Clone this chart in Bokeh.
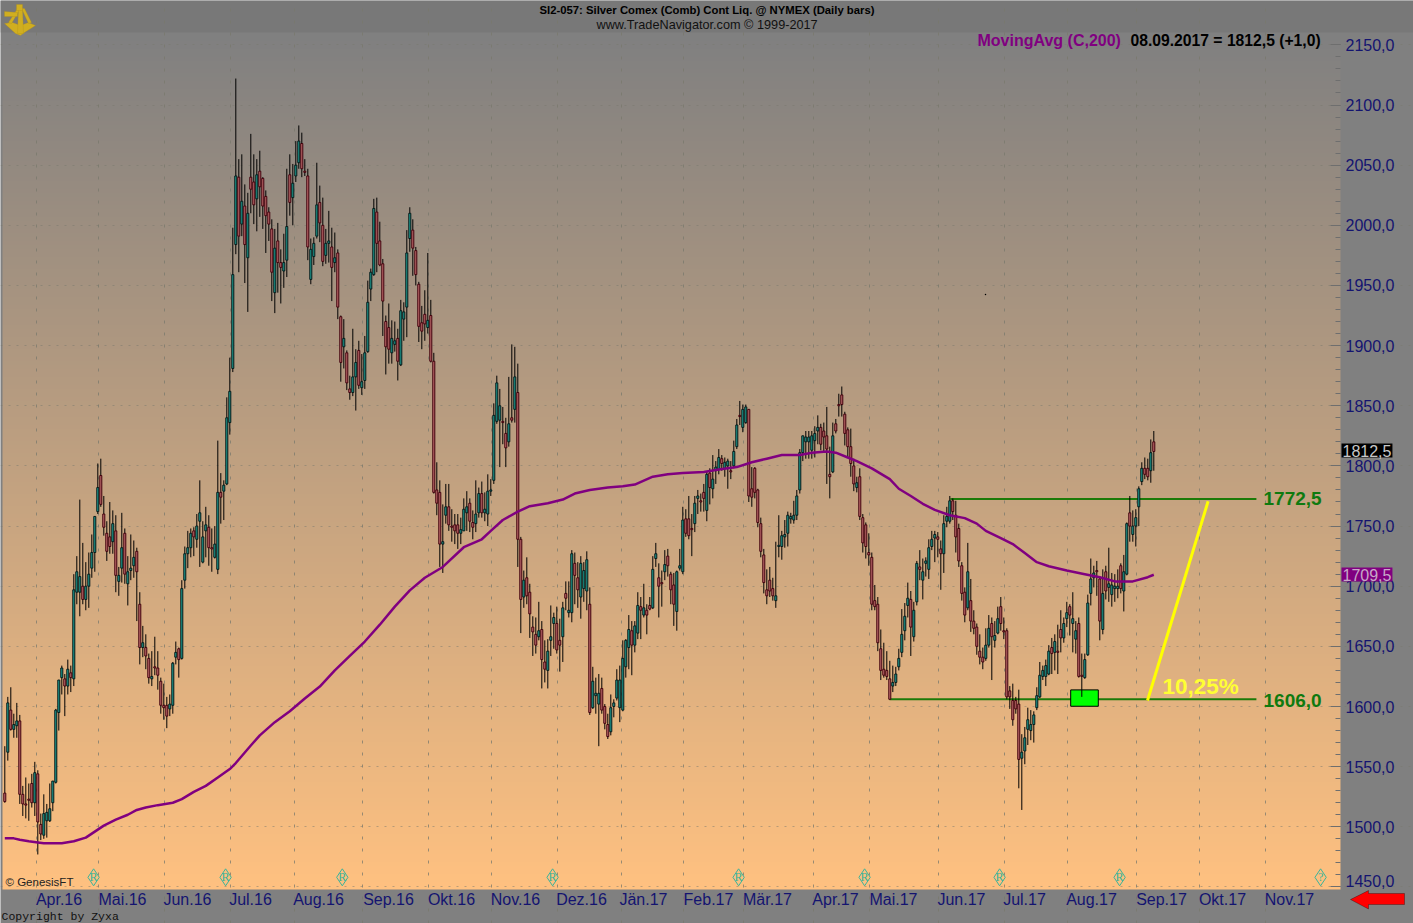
import numpy as np
from bokeh.plotting import figure
from bokeh.embed import file_html
from bokeh.resources import INLINE
from bokeh.models import FixedTicker, Label, PolyAnnotation, ColumnDataSource

opens = [
 1528,1562,1597,1581,1584,1588,1527,1519,1523,1536,
 1520,1544,1502,1493,1505,1505,1520,1537,1595,1624,
 1623,1617,1628,1623,1695,1695,1700,1689,1700,1715,
 1728,1762,1792,1760,1744,1741,1737,1746,1704,1715,
 1744,1702,1713,1717,1729,1685,1649,1649,1640,1623,
 1633,1632,1621,1601,1601,1598,1601,1641,1648,1640,
 1705,1727,1732,1746,1739,1754,1720,1746,1749,1732,
 1724,1714,1778,1779,1785,1836,1881,1984,2040,2001,
 2016,1973,2040,2036,2022,2045,2039,2024,2011,1997,
 1944,1987,1969,1962,1971,2042,2023,2041,2052,2068,
 2045,2041,1955,1974,1991,2019,2000,1975,1985,1982,
 1969,1977,1924,1899,1894,1864,1861,1874,1896,1865,
 1871,1895,1947,1959,2011,1987,1968,1920,1915,1894,
 1901,1906,1884,1922,1932,1989,1996,1979,1951,1919,
 1926,1915,1925,1887,1780,1778,1735,1759,1766,1750,
 1751,1751,1744,1746,1761,1769,1753,1752,1761,1777,
 1761,1760,1779,1788,1837,1838,1837,1827,1820,1840,
 1847,1861,1739,1691,1707,1695,1666,1660,1658,1664,
 1637,1630,1655,1669,1669,1655,1658,1694,1678,1678,
 1719,1707,1691,1698,1696,1685,1599,1609,1602,1615,
 1600,1585,1579,1600,1607,1599,1597,1633,1649,1663,
 1651,1661,1683,1676,1680,1684,1682,1723,1707,1703,
 1712,1725,1710,1701,1679,1715,1712,1756,1756,1748,
 1752,1773,1771,1778,1763,1794,1781,1796,1797,1806,
 1798,1800,1796,1800,1816,1842,1832,1836,1847,1781,
 1798,1780,1752,1726,1697,1705,1698,1688,1733,1733,
 1741,1744,1756,1755,1759,1780,1811,1820,1820,1813,
 1821,1829,1832,1829,1825,1793,1795,1835,1851,1859,
 1843,1830,1816,1800,1782,1791,1757,1751,1728,1724,
 1688,1685,1648,1631,1630,1623,1617,1620,1633,1645,
 1663,1684,1689,1658,1687,1716,1705,1719,1714,1733,
 1740,1741,1731,1727,1754,1754,1771,1759,1748,1717,
 1695,1682,1688,1671,1666,1646,1641,1640,1651,1669,
 1655,1661,1683,1663,1663,1613,1605,1605,1602,1557,
 1563,1581,1580,1585,1599,1608,1625,1625,1627,1649,
 1645,1646,1664,1657,1673,1683,1669,1656,1669,1626,
 1624,1643,1694,1707,1713,1706,1664,1712,1699,1693,
 1698,1698,1717,1696,1710,1761,1743,1750,1766,1787,
 1798,1798,1796,1820]
highs = [
 1567,1608,1616,1594,1603,1593,1534,1541,1536,1544,
 1554,1547,1511,1527,1519,1536,1538,1598,1622,1634,
 1627,1639,1634,1710,1725,1772,1736,1720,1728,1743,
 1758,1802,1806,1775,1754,1770,1763,1759,1716,1761,
 1748,1725,1743,1738,1732,1695,1667,1660,1644,1646,
 1658,1646,1624,1619,1608,1610,1637,1654,1649,1705,
 1733,1746,1748,1749,1760,1788,1754,1766,1759,1748,
 1750,1821,1794,1788,1857,1890,1998,2122,2055,2059,
 2034,2027,2076,2059,2055,2062,2040,2029,2015,2005,
 1997,2002,1980,1993,2047,2059,2051,2070,2083,2077,
 2055,2047,1989,1990,2052,2033,2023,1997,2012,1998,
 1994,1980,1925,1922,1896,1875,1914,1897,1904,1893,
 1908,1954,1964,2022,2023,2003,1972,1925,1935,1921,
 1920,1914,1938,1936,1996,2015,2005,1982,1953,1933,
 1946,1977,1938,1894,1803,1788,1768,1785,1785,1764,
 1760,1760,1757,1773,1779,1773,1763,1788,1782,1787,
 1778,1793,1789,1852,1875,1864,1849,1840,1874,1901,
 1899,1885,1741,1713,1724,1702,1675,1674,1687,1671,
 1655,1656,1684,1678,1683,1673,1687,1704,1704,1730,
 1728,1720,1725,1720,1729,1699,1633,1624,1627,1624,
 1602,1594,1610,1606,1631,1634,1655,1656,1676,1671,
 1671,1695,1691,1702,1685,1691,1725,1736,1719,1713,
 1730,1731,1712,1711,1713,1731,1766,1764,1775,1760,
 1775,1780,1777,1785,1795,1798,1809,1804,1814,1809,
 1807,1806,1804,1821,1839,1854,1851,1851,1847,1799,
 1799,1781,1757,1731,1714,1716,1707,1737,1759,1746,
 1755,1762,1761,1771,1780,1814,1825,1829,1829,1829,
 1833,1842,1835,1836,1849,1816,1836,1839,1860,1866,
 1845,1832,1831,1806,1791,1798,1760,1753,1744,1728,
 1701,1691,1664,1653,1646,1638,1634,1633,1648,1681,
 1686,1703,1696,1687,1721,1730,1723,1724,1739,1746,
 1746,1745,1738,1759,1766,1775,1773,1771,1752,1720,
 1699,1736,1706,1680,1669,1660,1649,1665,1676,1674,
 1671,1683,1691,1674,1665,1617,1619,1608,1614,1577,
 1583,1599,1597,1596,1616,1637,1634,1639,1651,1657,
 1660,1668,1680,1674,1687,1685,1695,1671,1674,1644,
 1644,1693,1723,1717,1721,1708,1714,1717,1732,1711,
 1710,1714,1719,1726,1753,1775,1763,1764,1783,1803,
 1807,1806,1822,1829]
lows = [
 1520,1555,1580,1574,1574,1519,1509,1507,1505,1516,
 1509,1477,1489,1490,1491,1504,1513,1536,1580,1610,
 1592,1610,1612,1617,1685,1675,1685,1680,1682,1707,
 1712,1760,1766,1742,1721,1727,1727,1695,1692,1703,
 1702,1684,1705,1707,1671,1635,1641,1631,1619,1617,
 1626,1614,1594,1589,1582,1592,1594,1635,1624,1639,
 1698,1715,1724,1725,1732,1716,1719,1724,1717,1712,
 1723,1710,1752,1755,1784,1826,1878,1976,1961,1991,
 1952,1928,2010,2001,1995,2007,1997,1977,1987,1937,
 1927,1944,1935,1948,1957,2008,2000,2036,2047,2040,
 2041,1971,1951,1967,1989,1986,1966,1968,1969,1937,
 1961,1922,1870,1881,1863,1855,1858,1846,1864,1859,
 1864,1894,1937,1958,1961,1966,1908,1876,1885,1885,
 1895,1871,1883,1904,1907,1978,1958,1950,1903,1897,
 1904,1910,1886,1777,1759,1716,1711,1752,1746,1737,
 1735,1731,1735,1746,1746,1745,1739,1745,1757,1757,
 1754,1750,1775,1785,1835,1799,1818,1799,1816,1836,
 1836,1716,1661,1682,1685,1657,1642,1644,1655,1615,
 1620,1615,1642,1648,1644,1629,1637,1680,1674,1670,
 1685,1682,1673,1687,1680,1593,1598,1594,1567,1594,
 1581,1573,1576,1591,1605,1587,1596,1624,1631,1626,
 1645,1656,1656,1674,1660,1680,1681,1716,1674,1683,
 1705,1708,1685,1667,1663,1713,1710,1741,1739,1725,
 1745,1760,1762,1762,1754,1768,1773,1785,1793,1796,
 1791,1781,1789,1798,1814,1834,1828,1835,1770,1766,
 1773,1749,1724,1694,1685,1691,1688,1682,1724,1722,
 1732,1733,1752,1752,1755,1777,1804,1806,1806,1806,
 1807,1818,1813,1811,1785,1773,1794,1827,1841,1841,
 1817,1807,1791,1779,1778,1755,1728,1723,1717,1680,
 1680,1646,1622,1624,1622,1606,1612,1617,1630,1641,
 1655,1674,1642,1654,1684,1705,1689,1708,1706,1730,
 1720,1724,1697,1711,1749,1752,1755,1728,1716,1688,
 1670,1680,1662,1660,1643,1635,1631,1638,1649,1622,
 1649,1660,1663,1656,1606,1598,1584,1594,1532,1514,
 1552,1568,1572,1570,1597,1607,1622,1617,1626,1627,
 1630,1627,1645,1653,1666,1659,1645,1644,1624,1608,
 1623,1642,1684,1699,1692,1655,1660,1689,1687,1683,
 1687,1690,1694,1679,1709,1737,1737,1733,1750,1784,
 1789,1788,1786,1796]
closes = [
 1521,1603,1581,1585,1588,1527,1519,1518,1522,1520,
 1545,1504,1494,1511,1512,1515,1538,1597,1622,1632,
 1617,1631,1624,1697,1712,1708,1689,1700,1710,1728,
 1758,1782,1768,1749,1729,1733,1752,1709,1709,1732,
 1710,1712,1715,1724,1712,1649,1653,1642,1624,1625,
 1632,1626,1601,1599,1592,1602,1636,1645,1639,1698,
 1727,1732,1744,1741,1750,1761,1741,1751,1732,1731,
 1735,1778,1774,1784,1840,1862,1959,2041,1991,2020,
 1984,2010,2030,2017,2042,2032,2016,2008,2001,1961,
 1981,1969,1965,1969,1999,2019,2035,2050,2070,2047,
 2044,1982,1980,1985,2017,2002,1970,1985,1987,1965,
 1973,1932,1886,1906,1869,1861,1874,1886,1867,1870,
 1894,1936,1961,2014,1985,1967,1937,1899,1897,1906,
 1904,1887,1929,1928,1977,2010,1981,1959,1916,1912,
 1918,1921,1887,1778,1769,1735,1737,1766,1751,1749,
 1746,1744,1747,1764,1766,1754,1749,1760,1777,1761,
 1764,1779,1780,1842,1869,1850,1836,1815,1835,1838,
 1874,1739,1689,1705,1692,1677,1662,1651,1663,1639,
 1631,1646,1658,1674,1647,1651,1682,1690,1680,1727,
 1709,1697,1719,1713,1722,1595,1621,1611,1611,1597,
 1586,1575,1599,1603,1622,1622,1640,1655,1664,1651,
 1667,1684,1680,1682,1676,1681,1714,1727,1700,1702,
 1718,1717,1697,1685,1712,1717,1755,1744,1742,1747,
 1769,1775,1770,1773,1793,1782,1789,1799,1807,1802,
 1803,1804,1795,1812,1834,1841,1847,1849,1775,1774,
 1778,1753,1729,1703,1692,1696,1692,1692,1734,1742,
 1743,1759,1758,1759,1775,1811,1825,1824,1824,1825,
 1827,1832,1818,1824,1814,1791,1825,1829,1850,1851,
 1827,1816,1802,1785,1786,1758,1736,1733,1726,1685,
 1683,1653,1630,1626,1625,1606,1620,1627,1640,1660,
 1675,1690,1666,1680,1719,1714,1712,1721,1732,1739,
 1743,1739,1727,1752,1758,1771,1762,1741,1721,1694,
 1676,1712,1671,1665,1650,1641,1637,1651,1665,1658,
 1659,1673,1669,1662,1608,1608,1589,1598,1556,1562,
 1574,1589,1585,1593,1609,1626,1630,1634,1646,1644,
 1654,1645,1657,1669,1678,1676,1673,1663,1625,1625,
 1639,1686,1706,1711,1712,1671,1694,1696,1702,1701,
 1700,1700,1698,1712,1752,1750,1750,1757,1781,1798,
 1793,1791,1811,1812]

ma_bars = [0,3,5,8,11,13,19,23,27,30,33,37,41,44,47,51,56,59,63,67,71,75,77,
           82,85,90,95,100,105,110,115,120,125,130,135,140,146,153,159,162,166,171,175,181,186,190,195,201,206,210,
           216,221,226,233,238,244,249,254,259,265,269,274,277,281,284,289,295,298,302,306,310,315,320,324,327,332,336,340,
           344,348,354,360,365,370,376,381,383]
ma_values = [1490.4,1490.4,1489.3,1488,1487,1486.3,1486.3,1488,1491,1496,1501,1506,1510,1514,1516,1518,1520,1523,1529,1534,1541,1548,1553,
             1567.6,1576,1587,1596,1606.6,1616.6,1630,1642,1654,1668,1683,1696.5,1707,1716,1732.4,1739,1746,1755,1762,1766.5,1769,1772,1777,1780,1782,1783,1784.5,
             1791,1793,1794,1795,1797,1799,1803,1806,1809,1809,1811,1812,1811,1807,1804,1798,1789,1781,1775,1768.5,1763.5,1759,1756.6,1752,1746,1740,1735,1727.5,
             1720,1716.6,1713,1710,1707.5,1704,1704,1707.5,1709.5]

month_ticks = [10.47,31.33,53.33,75.33,96.47,119.33,141.33,162.33,184.33,205.47,226.33,246.33,269.47,288.33,311.33,333.33,354.33,377.33,398.33,420.33]
month_label_bars = [18.07,39.23,60.9,81.9,104.57,127.9,148.9,170.23,192.23,212.9,234.57,254.23,276.9,296.23,318.9,339.9,362.23,385.57,405.9,428.23]
month_labels = ["Apr.16","Mai.16","Jun.16","Jul.16","Aug.16","Sep.16","Okt.16","Nov.16","Dez.16","Jän.17","Feb.17","Mär.17","Apr.17","Mai.17","Jun.17","Jul.17","Aug.17","Sep.17","Okt.17","Nov.17"]
price_ticks = [1450,1500,1550,1600,1650,1700,1750,1800,1850,1900,1950,2000,2050,2100,2150]
price_minor = [v for v in range(1450, 2160, 10)]

level_high = 1772.5
level_low = 1606.0
level_high_bars = [315.2, 417.2]
level_low_bars = [294.9, 417.2]
rise_bars = [380.9, 401.1]
rise_prices = [1605, 1770.6]
marker_bars = [355.3, 364.5]
marker_prices = [1600.2, 1613.8]
event_bars = [29.6,73.6,112.5,182.6,244.6,286.6,331.6,371.6,438.6]
event_letters = ["R","R","R","R","R","R","R","R","?"]
event_price = 1458.0
stray_bar = [326.9]
stray_price = [1942.5]

PANEL_L, PANEL_R, PANEL_T, PANEL_B = 2, 1340, 32, 889


def X(px):  # reference pixel -> bar index
    return (px - 4.3) / 3.0


def Y(py):  # reference pixel -> price
    return 1600 + (706 - py) / 1.203


W, H = 1413, 923
p = figure(width=W, height=H, output_backend="svg", toolbar_location=None,
           x_range=(X(0), X(W)), y_range=(Y(H), Y(0)),
           y_axis_location="right", tools="",
           min_border_left=0, min_border_right=0, min_border_top=0, min_border_bottom=0)
p.border_fill_color = "#808080"
p.outline_line_color = None
p.background_fill_color = "#808080"

# background gradient
n = 214
rows = np.zeros((n, 1), dtype=np.uint32)
view = rows.view(np.uint8).reshape((n, 1, 4))
for i in range(n):
    t = i / (n - 1)
    view[i, 0, 0] = int(255 - 127 * t)
    view[i, 0, 1] = int(193 - 65 * t)
    view[i, 0, 2] = 128
    view[i, 0, 3] = 255
p.image_rgba(image=[rows], x=X(PANEL_L), y=Y(PANEL_B), dw=X(PANEL_R) - X(PANEL_L),
             dh=Y(PANEL_T) - Y(PANEL_B), level="image")
# darker title band
p.quad(left=[X(0)], right=[X(W)], top=[Y(0)], bottom=[Y(PANEL_T)], fill_color="#787878", line_color=None, level="image")

# axes
ax = p.xaxis[0]
ax.fixed_location = Y(PANEL_B)
ax.ticker = FixedTicker(ticks=month_label_bars)
ax.major_label_overrides = {k: v for k, v in zip(month_label_bars, month_labels)}
ax.axis_line_color = None
ax.major_tick_line_color = None
ax.minor_tick_line_color = None
ax.major_tick_in = 0
ax.major_tick_out = 0
ax.minor_tick_in = 0
ax.minor_tick_out = 0
ax.major_label_text_font = "Liberation Sans"
ax.major_label_text_font_size = "16px"
ax.major_label_text_color = "#141470"
ax.major_label_standoff = 1

ay = p.yaxis[0]
ay.fixed_location = X(PANEL_R)
ay.ticker = FixedTicker(ticks=price_ticks, minor_ticks=price_minor)
ov = {v: f"{v},0" for v in price_ticks}
ov[1450] = ""
ay.major_label_overrides = ov
ay.axis_line_color = None
ay.major_tick_in = 10
ay.major_tick_out = 0
ay.minor_tick_in = 5
ay.minor_tick_out = 0
ay.major_tick_line_color = "#6e6e6e"
ay.minor_tick_line_color = "#6e6e6e"
ay.major_label_text_font = "Liberation Sans"
ay.major_label_text_font_size = "16px"
ay.major_label_text_color = "#141470"
ay.major_label_standoff = 5

p.xgrid.ticker = FixedTicker(ticks=month_ticks)
p.xgrid.bounds = (Y(PANEL_B), Y(PANEL_T))
p.xgrid.grid_line_color = "#78786c"
p.xgrid.grid_line_alpha = 0.75
p.xgrid.grid_line_dash = [3, 9]
p.ygrid.ticker = FixedTicker(ticks=price_ticks)
p.ygrid.bounds = (X(PANEL_L), X(PANEL_R))
p.ygrid.grid_line_color = "#78786c"
p.ygrid.grid_line_alpha = 0.5
p.ygrid.grid_line_dash = [2, 6]

# levels and marker below the candles
p.line(level_high_bars, [level_high, level_high], line_color="#1c7a08", line_width=2)
p.line(level_low_bars, [level_low, level_low], line_color="#1c7a08", line_width=2)
p.quad(left=[marker_bars[0]], right=[marker_bars[1]], bottom=[marker_prices[0]], top=[marker_prices[1]],
       fill_color="#00FF00", line_color="#000000", line_width=1)

# candles
bars = list(range(len(opens)))
assert len(opens) == len(highs) == len(lows) == len(closes) == 384
up = [c >= o for o, c in zip(opens, closes)]
src = ColumnDataSource(dict(
    x=bars, o=opens, h=highs, l=lows, c=closes,
    top=[max(a, b) for a, b in zip(opens, closes)],
    bot=[min(a, b) for a, b in zip(opens, closes)],
    fill=["#1F9F94" if u else "#C47070" for u in up],
    edge=["#061a1a" if u else "#40000c" for u in up],
))
p.segment(x0="x", y0="l", x1="x", y1="h", source=src, line_color="#000000", line_width=1)
p.vbar(x="x", width=0.67, top="top", bottom="bot", source=src, fill_color="fill", line_color="edge", line_width=1)

# moving average
p.line(ma_bars, ma_values, line_color="#800080", line_width=2.5)

# yellow rise
p.line(rise_bars, rise_prices, line_color="#FFFF00", line_width=3)

# event diamonds
p.scatter(event_bars, [event_price] * len(event_bars), marker="diamond", size=17,
          fill_color=None, line_color="#3CB49A", line_width=1)
p.text(event_bars, [event_price] * len(event_bars), text=event_letters, text_align="center", text_baseline="middle",
       text_font="Liberation Serif", text_font_size="12px", text_color="#3CB49A")

p.scatter(stray_bar, stray_price, marker="circle", size=1.5, fill_color="#000000", line_color=None)


def add_text(text, px, py, size, color, bold=False, font="Liberation Sans", align="left", **kw):
    p.add_layout(Label(x=X(px), y=Y(py), text=text, text_font=font, text_font_size=size, text_color=color,
                       level="overlay", text_font_style="bold" if bold else "normal", text_align=align,
                       text_baseline="middle", **kw))


def add_poly(xs, ys, fill, line):
    p.add_layout(PolyAnnotation(xs=[X(v) for v in xs], ys=[Y(v) for v in ys], fill_color=fill, fill_alpha=1,
                                line_color=line, line_width=1, level="overlay"))


add_text("SI2-057:  Silver Comex (Comb) Cont Liq. @ NYMEX  (Daily bars)", 539, 9, "11.3px", "#000000", bold=True)
add_text("www.TradeNavigator.com © 1999-2017", 596, 24.5, "12.7px", "#111111")
add_text("MovingAvg (C,200)", 977, 40, "16px", "#800080", bold=True)
add_text("08.09.2017 = 1812,5 (+1,0)", 1130, 40, "15.7px", "#000000", bold=True)
add_text("1772,5", 1263, 498, "19px", "#0F7A0F", bold=True)
add_text("1606,0", 1263, 699.5, "19px", "#0F7A0F", bold=True)
add_text("10,25%", 1162, 686, "22.5px", "#FFFF33", bold=True)
add_text("© GenesisFT", 5, 881, "11.5px", "#222222")
add_text("1450,0", 1345, 880, "16px", "#141470")
add_text("1812,5", 1341, 450, "16px", "#C8C8C8", background_fill_color="#000000", padding=1)
add_text("1709,5", 1341, 574, "16px", "#C8A8C8", background_fill_color="#800080", padding=1)
add_text("Copyright by Zyxa", 1, 916, "11.5px", "#111111", font="Liberation Mono")

# red arrow, lower right
add_poly([1350, 1368, 1368, 1404, 1404, 1368, 1368], [899, 890, 893, 893, 904, 904, 908.5], "#FF0000", "#000000")
# sextant emblem, upper left
for xs_, ys_ in [
    ([4, 12, 20, 28, 35, 24, 20, 15], [23, 22, 25, 22, 25, 32, 35, 33]),
    ([17, 20, 11, 8], [8, 8, 23, 22]),
    ([21, 24, 31, 28], [8, 8, 22, 23]),
    ([18, 22, 23, 17], [8, 8, 33, 33]),
    ([4, 17, 17, 4], [11, 12, 16, 16]),
    ([16, 22, 22, 16], [4, 4, 10, 10]),
]:
    add_poly(xs_, ys_, "#D0AE20", "#B09018")

open("out.html", "w").write(file_html(p, INLINE))
